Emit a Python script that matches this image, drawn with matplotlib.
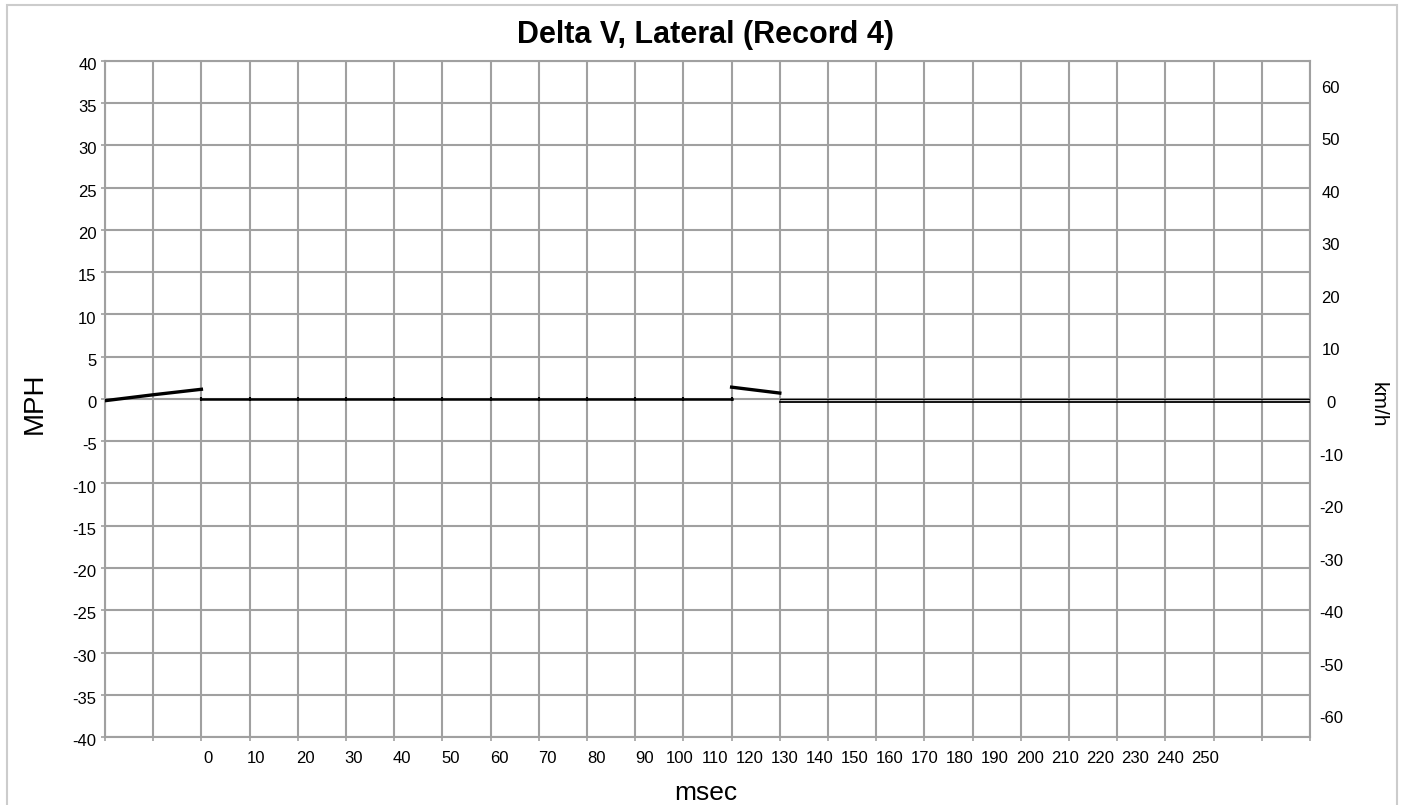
import matplotlib
matplotlib.use('Agg')
import matplotlib.pyplot as plt
from matplotlib.patches import Rectangle
import matplotlib.transforms as mtransforms

plt.rcParams['font.family'] = ['Liberation Sans', 'DejaVu Sans']

# data (MPH over grid position, msec)
pre_t = [-20, -10, 0]
pre_v = [-0.2, 0.5, 1.15]
flat_t = [0, 10, 20, 30, 40, 50, 60, 70, 80, 90, 100, 110]
flat_v = [0, 0, 0, 0, 0, 0, 0, 0, 0, 0, 0, 0]
jump_t = [110, 120]
jump_v = [1.4, 0.7]
tail_t = [120, 130, 140, 150, 160, 170, 180, 190, 200, 210, 220, 230]
tail_a = [0, 0, 0, 0, 0, 0, 0, 0, 0, 0, 0, 0]
tail_b = [-0.3, -0.3, -0.3, -0.3, -0.3, -0.3, -0.3, -0.3, -0.3, -0.3, -0.3, -0.3]

xlabels = ['0', '10', '20', '30', '40', '50', '60', '70', '80', '90', '100', '110',
           '120', '130', '140', '150', '160', '170', '180', '190', '200', '210',
           '220', '230', '240', '250']
mph_ticks = list(range(-40, 41, 5))
kmh_ticks = list(range(-60, 61, 10))

grid_c = '#a0a0a0'

fig = plt.figure(figsize=(14.04, 8.05), dpi=100)
fig.patches.append(Rectangle((7 / 1404, -0.01), 1390 / 1404, 1 - 5 / 805 + 0.01,
                             transform=fig.transFigure, fill=False,
                             edgecolor='#cccccc', lw=1.5))
ax = fig.add_axes([105 / 1404, 1 - 737 / 805, 1205 / 1404, 676 / 805])

ax.plot(pre_t, pre_v, color='black', lw=2.4, zorder=3)
ax.plot(flat_t, flat_v, color='black', lw=1.8, marker='|', ms=3, mew=1.5, zorder=3)
ax.plot(jump_t, jump_v, color='black', lw=2.4, zorder=3)
ax.plot(tail_t, tail_a, color='black', lw=1.0, zorder=3)
ax.plot(tail_t, tail_b, color='black', lw=1.3, zorder=3)

ax.set_xlim(-20, 230)
ax.set_ylim(-40, 40)
ax.set_xticks(range(-20, 231, 10))
ax.set_xticklabels([])
ax.set_yticks(mph_ticks)
ax.set_yticklabels([str(v) for v in mph_ticks], fontsize=12)
ax.grid(True, color=grid_c, lw=1.5)
ax.set_axisbelow(True)
ax.tick_params(axis='both', length=3, width=1.2, color=grid_c, pad=3)
for s in ax.spines.values():
    s.set_color(grid_c)
    s.set_linewidth(1.5)

# y tick labels sit a little below their grid lines
off = mtransforms.ScaledTranslation(0, -3 / 100, fig.dpi_scale_trans)
for lab in ax.get_yticklabels():
    lab.set_transform(lab.get_transform() + off)

# x labels: first ones under the grid, the rest packed tighter
px_per = 1205 / 250
for i, lab in enumerate(xlabels):
    if i <= 8:
        px = 208 + 48.5 * i
    else:
        px = 645 + 35 * (i - 9)
    xd = -20 + (px - 105) / px_per
    ax.text(xd, -0.032, lab, transform=ax.get_xaxis_transform(),
            ha='center', va='center', fontsize=12)

ax2 = ax.twinx()
ax2.set_ylim(-40 * 1.609344, 40 * 1.609344)
ax2.set_yticks(kmh_ticks)
ax2.set_yticklabels([str(v) for v in kmh_ticks], fontsize=12)
ax2.tick_params(axis='y', length=0, pad=15)
for lab in ax2.get_yticklabels():
    lab.set_transform(lab.get_transform() + off)
    lab.set_horizontalalignment('center')
for s in ax2.spines.values():
    s.set_visible(False)

fig.text(706 / 1404, 1 - 35 / 805, 'Delta V, Lateral (Record 4)', ha='center',
         va='center', fontsize=22, fontweight='bold')
fig.text(35 / 1404, 1 - 403 / 805, 'MPH', rotation=90, ha='center', va='center',
         fontsize=20)
fig.text(1378 / 1404, 1 - 405 / 805, 'km/h', rotation=270, ha='center',
         va='center', fontsize=15)
fig.text(706 / 1404, 1 - 793 / 805, 'msec', ha='center', va='center', fontsize=19)

fig.savefig('out.png', dpi=100)
